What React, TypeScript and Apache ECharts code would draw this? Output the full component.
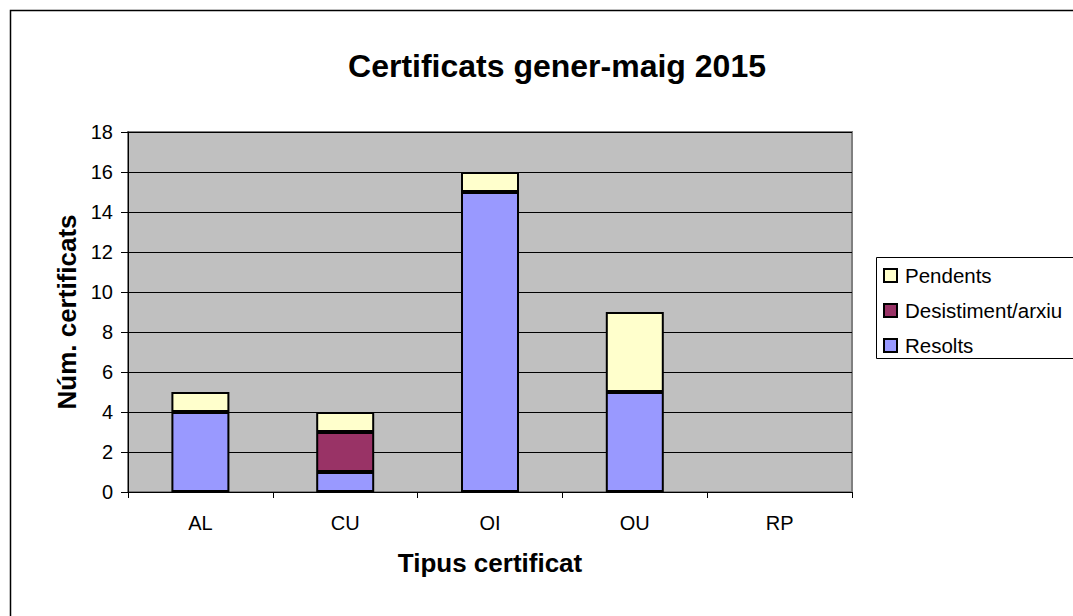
import React, { useEffect, useRef } from "react";
import * as echarts from "echarts";

const categories = ["AL", "CU", "OI", "OU", "RP"];
const resolts = [4, 1, 15, 5, 0];
const desistiment = [0, 2, 0, 0, 0];
const pendents = [1, 1, 1, 4, 0];
const yTicks = { min: 0, max: 18, interval: 2 };

const FONT = "'Liberation Sans', Arial, sans-serif";

const nz = (arr: number[]) => arr.map((v) => (v === 0 ? "-" : v));

export default function App() {
  const ref = useRef<HTMLDivElement>(null);
  useEffect(() => {
    if (!ref.current) return;
    const chart = echarts.init(ref.current, undefined, { renderer: "svg" });
    const barStyle = (color: string) => ({
      color,
      borderColor: "#000",
      borderWidth: 2,
    });
    chart.setOption({
      animation: false,
      backgroundColor: "#fff",
      textStyle: { fontFamily: FONT },
      title: {
        text: "Certificats gener-maig 2015",
        left: 552,
        textAlign: "center",
        top: 45,
        textStyle: { fontFamily: FONT, fontSize: 32, fontWeight: "bold", color: "#000" },
      },
      graphic: [
        {
          type: "rect",
          shape: { x: 10.5, y: 10.5, width: 1200, height: 800 },
          style: { fill: "none", stroke: "#000", lineWidth: 1.5 },
          silent: true,
          z: 100,
        },
        {
          type: "rect",
          shape: { x: 876.5, y: 257.5, width: 300, height: 101 },
          style: { fill: "#fff", stroke: "#000", lineWidth: 1 },
          silent: true,
          z: 1,
        },
      ],
      legend: {
        data: ["Pendents", "Desistiment/arxiu", "Resolts"],
        orient: "vertical",
        left: 883,
        top: 265,
        padding: 0,
        itemWidth: 13,
        itemHeight: 13,
        itemGap: 14,
        z: 5,
        icon: "rect",
        itemStyle: { borderColor: "#000", borderWidth: 2 },
        textStyle: { fontFamily: FONT, fontSize: 20.5, lineHeight: 20, color: "#000", padding: [0, 0, 0, 3] },
      },
      grid: {
        left: 128,
        top: 132,
        right: 221,
        bottom: 124,
        show: true,
        backgroundColor: "#C0C0C0",
        borderColor: "#808080",
        borderWidth: 2,
      },
      xAxis: {
        type: "category",
        data: categories,
        name: "Tipus certificat",
        nameLocation: "middle",
        nameGap: 58,
        nameTextStyle: { fontFamily: FONT, fontSize: 26, fontWeight: "bold", color: "#000" },
        axisLine: { lineStyle: { color: "#000", width: 1 } },
        axisTick: { show: true, length: 6, lineStyle: { color: "#000" } },
        axisLabel: { fontFamily: FONT, fontSize: 20, color: "#000", margin: 21 },
      },
      yAxis: {
        type: "value",
        min: yTicks.min,
        max: yTicks.max,
        interval: yTicks.interval,
        name: "Núm. certificats",
        nameLocation: "middle",
        nameGap: 47,
        nameTextStyle: { fontFamily: FONT, fontSize: 26, fontWeight: "bold", color: "#000" },
        axisLine: { show: true, lineStyle: { color: "#000", width: 1 } },
        axisTick: { show: true, length: 7, lineStyle: { color: "#000" } },
        axisLabel: { fontFamily: FONT, fontSize: 20, color: "#000", margin: 15 },
        splitLine: { show: true, lineStyle: { color: "#000", width: 1 } },
      },
      series: [
        {
          name: "Resolts",
          type: "bar",
          stack: "total",
          barWidth: 58,
          data: nz(resolts),
          itemStyle: barStyle("#9999FF"),
        },
        {
          name: "Desistiment/arxiu",
          type: "bar",
          stack: "total",
          barWidth: 58,
          data: nz(desistiment),
          itemStyle: barStyle("#993366"),
        },
        {
          name: "Pendents",
          type: "bar",
          stack: "total",
          barWidth: 58,
          data: nz(pendents),
          itemStyle: barStyle("#FFFFCC"),
        },
      ],
    });
    return () => chart.dispose();
  }, []);
  return (
    <div
      ref={ref}
      style={{ position: "fixed", left: 0, top: 0, width: 1073, height: 616 }}
    />
  );
}
